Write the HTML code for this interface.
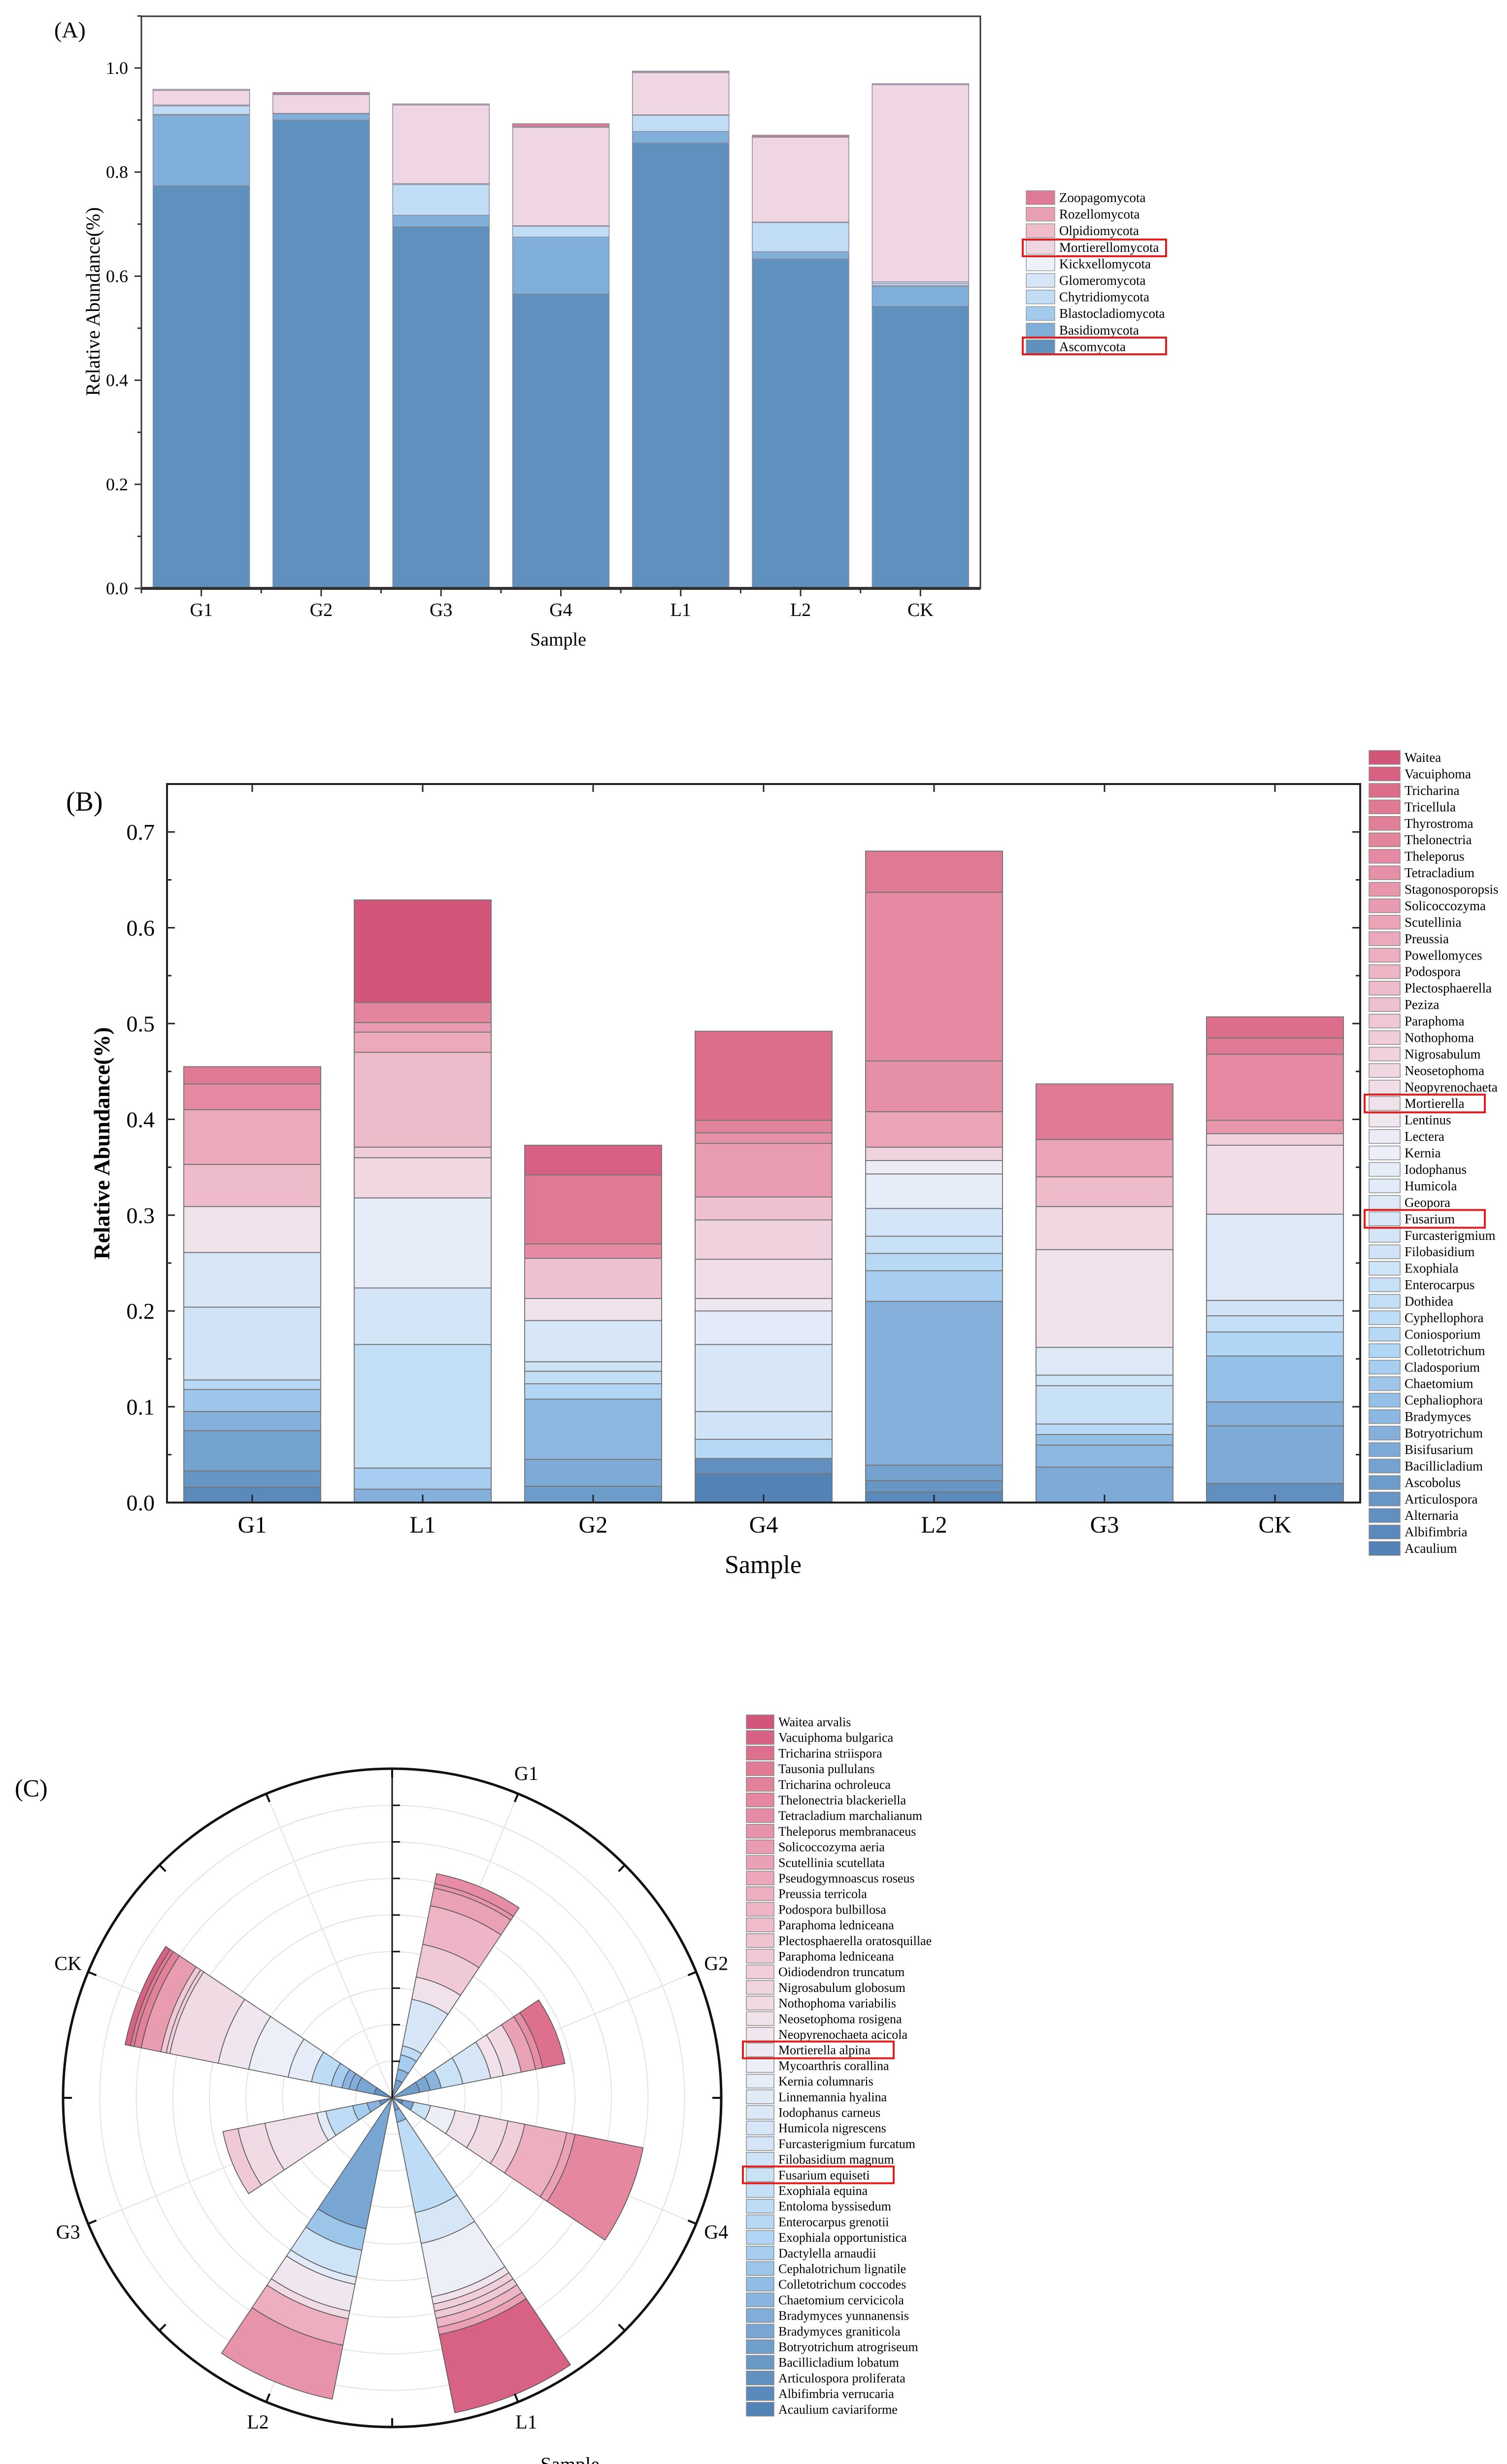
<!DOCTYPE html>
<html><head><meta charset="utf-8">
<style>
html,body{margin:0;padding:0;background:#fff;width:3059px;height:5066px;overflow:hidden;}
svg{display:block;font-family:"Liberation Serif",serif;}
</style></head>
<body>
<svg id="chart" width="3059" height="5066" viewBox="0 0 3059 5066" xmlns="http://www.w3.org/2000/svg">
<rect x="0" y="0" width="3059" height="5066" fill="#fff"/>
</svg>
<script>
// ===== Panel A data =====
const samplesA = ['G1','G2','G3','G4','L1','L2','CK'];
const phylaA = ['Ascomycota','Basidiomycota','Blastocladiomycota','Chytridiomycota','Glomeromycota','Kickxellomycota','Mortierellomycota','Olpidiomycota','Rozellomycota','Zoopagomycota'];
const ascomycota = [0.774,0.900,0.695,0.566,0.856,0.633,0.542];
const basidiomycota = [0.135,0.012,0.022,0.109,0.022,0.014,0.038];
const blastocladiomycota = [0.002,0,0,0,0,0,0.002];
const chytridiomycota = [0.016,0,0.059,0.021,0.031,0.056,0.004];
const glomeromycota = [0.002,0.001,0.002,0.001,0.001,0.001,0.003];
const kickxellomycota = [0,0,0,0,0,0,0];
const mortierellomycota = [0.028,0.036,0.151,0.189,0.081,0.163,0.379];
const olpidiomycota = [0.002,0.001,0.002,0.001,0.002,0.001,0.002];
const rozellomycota = [0,0,0,0,0,0,0];
const zoopagomycota = [0,0.003,0,0.006,0.001,0.003,0];
const ticksA = ['0.0','0.2','0.4','0.6','0.8','1.0'];
const tickValsA = [0,0.2,0.4,0.6,0.8,1.0];

// ===== Panel B data =====
const samplesB = ['G1','L1','G2','G4','L2','G3','CK'];
const generaB = ['Waitea','Vacuiphoma','Tricharina','Tricellula','Thyrostroma','Thelonectria','Theleporus','Tetracladium','Stagonosporopsis','Solicoccozyma','Scutellinia','Preussia','Powellomyces','Podospora','Plectosphaerella','Peziza','Paraphoma','Nothophoma','Nigrosabulum','Neosetophoma','Neopyrenochaeta','Mortierella','Lentinus','Lectera','Kernia','Iodophanus','Humicola','Geopora','Fusarium','Furcasterigmium','Filobasidium','Exophiala','Enterocarpus','Dothidea','Cyphellophora','Coniosporium','Colletotrichum','Cladosporium','Chaetomium','Cephaliophora','Bradymyces','Botryotrichum','Bisifusarium','Bacillicladium','Ascobolus','Articulospora','Alternaria','Albifimbria','Acaulium'];
const bG1_idx = [1,3,5,7,10,13,18,20,27,34,37,42,45];
const bG1_val = [0.016,0.017,0.042,0.020,0.023,0.010,0.076,0.057,0.048,0.044,0.057,0.027,0.018];
const bL1_idx = [7,11,15,19,23,29,31,34,37,39,43,48];
const bL1_val = [0.014,0.022,0.129,0.059,0.094,0.042,0.011,0.099,0.021,0.010,0.021,0.107];
const bG2_idx = [4,6,8,12,15,17,20,27,33,42,45,47];
const bG2_val = [0.017,0.028,0.063,0.016,0.013,0.010,0.043,0.023,0.042,0.015,0.072,0.031];
const bG4_idx = [0,2,13,18,20,22,26,28,30,33,39,41,43,46];
const bG4_val = [0.030,0.016,0.020,0.029,0.070,0.035,0.013,0.041,0.041,0.024,0.056,0.011,0.013,0.093];
const bL2_idx = [1,3,5,7,11,13,16,19,23,25,30,38,41,42,45];
const bL2_val = [0.011,0.012,0.016,0.171,0.032,0.018,0.018,0.029,0.036,0.014,0.014,0.037,0.053,0.176,0.043];
const bG3_idx = [6,8,9,13,16,17,21,27,29,34,38,45];
const bG3_val = [0.037,0.023,0.011,0.011,0.040,0.011,0.029,0.102,0.045,0.031,0.039,0.058];
const bCK_idx = [2,6,7,9,12,15,18,21,28,30,40,42,45,46];
const bCK_val = [0.020,0.060,0.025,0.048,0.025,0.017,0.016,0.090,0.072,0.012,0.014,0.069,0.017,0.022];
const ticksB = ['0.0','0.1','0.2','0.3','0.4','0.5','0.6','0.7'];
const tickValsB = [0,0.1,0.2,0.3,0.4,0.5,0.6,0.7];

// ===== Panel C data =====
const samplesC = ['G1','G2','G4','L1','L2','G3','CK'];
const speciesC = ['Waitea arvalis','Vacuiphoma bulgarica','Tricharina striispora','Tausonia pullulans','Tricharina ochroleuca','Thelonectria blackeriella','Tetracladium marchalianum','Theleporus membranaceus','Solicoccozyma aeria','Scutellinia scutellata','Pseudogymnoascus roseus','Preussia terricola','Podospora bulbillosa','Paraphoma ledniceana','Plectosphaerella oratosquillae','Paraphoma ledniceana','Oidiodendron truncatum','Nigrosabulum globosum','Nothophoma variabilis','Neosetophoma rosigena','Neopyrenochaeta acicola','Mortierella alpina','Mycoarthris corallina','Kernia columnaris','Linnemannia hyalina','Iodophanus carneus','Humicola nigrescens','Furcasterigmium furcatum','Filobasidium magnum','Fusarium equiseti','Exophiala equina','Entoloma byssisedum','Enterocarpus grenotii','Exophiala opportunistica','Dactylella arnaudii','Cephalotrichum lignatile','Colletotrichum coccodes','Chaetomium cervicicola','Bradymyces yunnanensis','Bradymyces graniticola','Botryotrichum atrogriseum','Bacillicladium lobatum','Articulospora proliferata','Albifimbria verrucaria','Acaulium caviariforme'];
const cG1_idx = [4,7,10,13,18,25,29,32,35,37,38];
const cG1_val = [0.050,0.030,0.040,0.025,0.130,0.062,0.091,0.108,0.049,0.012,0.028];
const cG2_idx = [4,5,7,15,18,25,26,35,38,42];
const cG2_val = [0.077,0.029,0.031,0.060,0.078,0.035,0.050,0.040,0.020,0.062];
const cG4_idx = [1,5,15,22,25,26,28,33,35,39];
const cG4_val = [0.030,0.030,0.047,0.069,0.069,0.078,0.047,0.117,0.023,0.190];
const cL1_idx = [4,7,13,18,22,25,28,29,32,35,43];
const cL1_val = [0.035,0.033,0.252,0.086,0.149,0.020,0.020,0.020,0.025,0.020,0.218];
const cL2_idx = [5,9,16,20,24,26,33,37];
const cL2_val = [0.365,0.060,0.075,0.020,0.075,0.021,0.074,0.150];
const cG3_idx = [2,7,10,13,20,25,26,29];
const cG3_val = [0.035,0.035,0.040,0.075,0.025,0.145,0.075,0.042];
const cCK_idx = [2,5,6,7,10,13,21,22,24,26,28,29,36,40,41,43];
const cCK_val = [0.050,0.050,0.020,0.020,0.030,0.055,0.065,0.110,0.085,0.135,0.010,0.015,0.055,0.020,0.010,0.015];

// ===== helpers =====
const NS='http://www.w3.org/2000/svg';
const svg=document.getElementById('chart');
function mk(tag, attrs, parent){const e=document.createElementNS(NS,tag);for(const k in attrs)e.setAttribute(k,attrs[k]);(parent||svg).appendChild(e);return e;}
function txt(s, attrs, parent){const e=mk('text',attrs,parent);e.textContent=s;return e;}
const stops=[[0,'#5383b6'],[.08,'#6d9bc9'],[.17,'#8cb8e2'],[.25,'#b1d6f5'],[.33,'#c8e1f6'],[.42,'#d9e7f7'],[.5,'#eceff8'],[.56,'#f0e3ec'],[.67,'#f0c6d4'],[.79,'#eba3b6'],[.875,'#e58aa2'],[.94,'#df7893'],[1,'#d4557a']];
function hx(c){return [parseInt(c.slice(1,3),16),parseInt(c.slice(3,5),16),parseInt(c.slice(5,7),16)];}
function grad(t){for(let i=1;i<stops.length;i++){if(t<=stops[i][0]){const a=stops[i-1],b=stops[i];const f=(t-a[0])/(b[0]-a[0]);const ca=hx(a[1]),cb=hx(b[1]);return 'rgb('+ca.map((v,j)=>Math.round(v+(cb[j]-v)*f)).join(',')+')';}}return stops[stops.length-1][1];}

// ===== Panel A =====
const gA=mk('g',{});


const colorsA=['#6090be','#80afd9','#a3cbee','#c0ddf5','#d6e6f8','#eef0fa','#f0d6e3','#f0bccb','#eaa0b4','#dd7b96'];
const seriesA=[ascomycota,basidiomycota,blastocladiomycota,chytridiomycota,glomeromycota,kickxellomycota,mortierellomycota,olpidiomycota,rozellomycota,zoopagomycota];
const A={l:287,r:1990,t:33,b:1194};
function yA(v){return A.b-v*1056;}
function xA(i){return A.l+(A.r-A.l)/7*(i+0.5);}
const bwA=196;
samplesA.forEach((s,i)=>{
  let cum=0;
  seriesA.forEach((ser,k)=>{
    const v=ser[i]; if(v<=0) return;
    const r=mk('rect',{x:xA(i)-bwA/2,y:yA(cum+v),width:bwA,height:yA(cum)-yA(cum+v),fill:colorsA[k],stroke:'#8a8a9a','stroke-width':1.5},gA);
    
    
    cum+=v;
  });
  const lb=txt(s,{x:xA(i),y:1250,'font-size':38,'text-anchor':'middle'},gA);
  
  
  mk('line',{x1:xA(i),y1:A.b,x2:xA(i),y2:A.b+16,stroke:'#333','stroke-width':3},gA);
  mk('line',{x1:A.l+(A.r-A.l)/7*i,y1:A.b,x2:A.l+(A.r-A.l)/7*i,y2:A.b+10,stroke:'#333','stroke-width':3},gA);
});
const frameA=mk('rect',{x:A.l,y:A.t,width:A.r-A.l,height:A.b-A.t,fill:'none',stroke:'#333','stroke-width':3},gA);


mk('line',{x1:A.l,y1:A.b,x2:A.r,y2:A.b,stroke:'#333','stroke-width':6},gA);
tickValsA.forEach((v,i)=>{
  mk('line',{x1:A.l-14,y1:yA(v),x2:A.l,y2:yA(v),stroke:'#333','stroke-width':3},gA);
  mk('line',{x1:A.l-8,y1:yA(v+0.1),x2:A.l,y2:yA(v+0.1),stroke:'#333','stroke-width':3},gA);
  const t=txt(ticksA[i],{x:260,y:yA(v)+12,'font-size':36,'text-anchor':'end'},gA);
  
  
});
let e;
e=txt('Relative Abundance(%)',{x:0,y:0,'font-size':40,'text-anchor':'middle',transform:'translate(202,612) rotate(-90)'},gA);


e=txt('Sample',{x:1133,y:1310,'font-size':38,'text-anchor':'middle'},gA);


e=txt('(A)',{x:110,y:76,'font-size':46},gA);


for(let k=9;k>=0;k--){
  const row=9-k; const cy=401+row*33.6;
  const g=mk('g',{},gA);
  
  
  mk('rect',{x:2083,y:cy-14,width:58,height:28,fill:colorsA[k],stroke:'#999','stroke-width':1.5},g);
  txt(phylaA[k],{x:2150,y:cy+9,'font-size':27},g);
}
e=mk('rect',{x:2076,y:486,width:291,height:34,fill:'none',stroke:'#e02020','stroke-width':4},gA);


e=mk('rect',{x:2076,y:685,width:291,height:34,fill:'none',stroke:'#e02020','stroke-width':4},gA);



// ===== Panel B =====
const gB=mk('g',{});


const B={l:339,r:2761,t:1591,b:3049};
function yB(v){return B.b-v*1944;}
function xB(i){return B.l+(B.r-B.l)/7*(i+0.5);}
const bwB=278;
const NB=generaB.length;
function colB(idx){return grad(idx/(NB-1));}
const stacksIdx=[bG1_idx,bL1_idx,bG2_idx,bG4_idx,bL2_idx,bG3_idx,bCK_idx];
const stacksVal=[bG1_val,bL1_val,bG2_val,bG4_val,bL2_val,bG3_val,bCK_val];
samplesB.forEach((s,i)=>{
  let cum=0;
  stacksVal[i].forEach((v,j)=>{
    const gi=stacksIdx[i][j];
    const r=mk('rect',{x:xB(i)-bwB/2,y:yB(cum+v),width:bwB,height:yB(cum)-yB(cum+v),fill:colB(gi),stroke:'#777','stroke-width':2},gB);
    
    
    cum+=v;
  });
  const lb=txt(s,{x:xB(i),y:3110,'font-size':48,'text-anchor':'middle'},gB);
  
  
  mk('line',{x1:xB(i),y1:B.b,x2:xB(i),y2:B.b-16,stroke:'#222','stroke-width':3},gB);
  mk('line',{x1:xB(i),y1:B.t,x2:xB(i),y2:B.t+16,stroke:'#222','stroke-width':3},gB);
});
e=mk('rect',{x:B.l,y:B.t,width:B.r-B.l,height:B.b-B.t,fill:'none',stroke:'#222','stroke-width':4},gB);


tickValsB.forEach((v,i)=>{
  mk('line',{x1:B.l,y1:yB(v),x2:B.l+16,y2:yB(v),stroke:'#222','stroke-width':3},gB);
  mk('line',{x1:B.r,y1:yB(v),x2:B.r-16,y2:yB(v),stroke:'#222','stroke-width':3},gB);
  mk('line',{x1:B.l,y1:yB(v+0.05),x2:B.l+9,y2:yB(v+0.05),stroke:'#222','stroke-width':3},gB);
  mk('line',{x1:B.r,y1:yB(v+0.05),x2:B.r-9,y2:yB(v+0.05),stroke:'#222','stroke-width':3},gB);
  const t=txt(ticksB[i],{x:314,y:yB(v)+16,'font-size':46,'text-anchor':'end'},gB);
  
  
});
e=txt('Relative Abundance(%)',{x:0,y:0,'font-size':46,'font-weight':'bold','text-anchor':'middle',transform:'translate(222,2320) rotate(-90)'},gB);


e=txt('Sample',{x:1549,y:3192,'font-size':52,'text-anchor':'middle'},gB);


e=txt('(B)',{x:134,y:1645,'font-size':56},gB);


generaB.forEach((name,row)=>{
  const cy=1537+row*33.44; const gi=NB-1-row;
  const g=mk('g',{},gB);
  
  
  mk('rect',{x:2779,y:cy-14,width:63,height:28,fill:colB(gi),stroke:'#888','stroke-width':1.5},g);
  txt(name,{x:2851,y:cy+9,'font-size':27},g);
});
e=mk('rect',{x:2770,y:1537+21*33.44-18,width:244,height:36,fill:'none',stroke:'#e02020','stroke-width':4},gB);


e=mk('rect',{x:2770,y:1537+28*33.44-18,width:244,height:36,fill:'none',stroke:'#e02020','stroke-width':4},gB);



// ===== Panel C =====
const gC=mk('g',{});


const C={cx:796,cy:4257,R:668,unit:74.2};
const NC=speciesC.length;
function colC(idx){return grad(idx/(NC-1));}
function rC(v){return v*10*C.unit;}
function pt(r,a){const t=a*Math.PI/180;return [C.cx+r*Math.sin(t),C.cy-r*Math.cos(t)];}
function sector(r0,r1,a0,a1){
  const p1=pt(r1,a0),p2=pt(r1,a1);
  let d='M'+pt(r0,a0).join(',')+' L'+p1.join(',')+' A'+r1+','+r1+' 0 0 1 '+p2.join(',');
  if(r0>0){const p3=pt(r0,a1),p4=pt(r0,a0);d+=' L'+p3.join(',')+' A'+r0+','+r0+' 0 0 0 '+p4.join(',');}
  else d+=' L'+C.cx+','+C.cy;
  return d+' Z';
}
for(let k=1;k<=8;k++) mk('circle',{cx:C.cx,cy:C.cy,r:k*C.unit,fill:'none',stroke:'#e2e2e2','stroke-width':2},gC);
for(let k=0;k<8;k++){const p=pt(C.R,22.5+45*k);mk('line',{x1:C.cx,y1:C.cy,x2:p[0],y2:p[1],stroke:'#e2e2e2','stroke-width':2},gC);}
const cIdx=[cG1_idx,cG2_idx,cG4_idx,cL1_idx,cL2_idx,cG3_idx,cCK_idx];
const cVal=[cG1_val,cG2_val,cG4_val,cL1_val,cL2_val,cG3_val,cCK_val];
samplesC.forEach((s,i)=>{
  const ac=22.5+45*i; let cum=0;
  cVal[i].forEach((v,j)=>{
    const si=cIdx[i][j];
    const p=mk('path',{d:sector(rC(cum),rC(cum+v),ac-11.25,ac+11.25),fill:colC(si),stroke:'#555','stroke-width':1.6},gC);
    
    
    cum+=v;
  });
  const lp=pt(712,ac);
  const t=txt(s,{x:lp[0],y:lp[1]+13,'font-size':40,'text-anchor':'middle'},gC);
  
  
});
e=mk('circle',{cx:C.cx,cy:C.cy,r:C.R,fill:'none',stroke:'#111','stroke-width':5},gC);


for(let k=0;k<16;k++){const a=22.5*k;const p0=pt(C.R,a),p1=pt(C.R-18,a);mk('line',{x1:p0[0],y1:p0[1],x2:p1[0],y2:p1[1],stroke:'#111','stroke-width':4},gC);}
e=mk('line',{x1:C.cx,y1:C.cy,x2:C.cx,y2:C.cy-C.R,stroke:'#111','stroke-width':3},gC);


for(let k=1;k<=8;k++) mk('line',{x1:C.cx,y1:C.cy-k*C.unit,x2:C.cx+16,y2:C.cy-k*C.unit,stroke:'#111','stroke-width':3},gC);
e=txt('(C)',{x:30,y:3645,'font-size':50},gC);


e=txt('Sample',{x:1157,y:5014,'font-size':40,'text-anchor':'middle'},gC);


speciesC.forEach((name,row)=>{
  const cy=3494+row*31.7; const si=NC-1-row;
  const g=mk('g',{},gC);
  
  
  mk('rect',{x:1515,y:cy-14,width:56,height:28,fill:colC(si),stroke:'#888','stroke-width':1.5},g);
  txt(name,{x:1580,y:cy+9,'font-size':26},g);
});
e=mk('rect',{x:1508,y:3494+21*31.7-17,width:306,height:34,fill:'none',stroke:'#e02020','stroke-width':4},gC);


e=mk('rect',{x:1508,y:3494+29*31.7-17,width:306,height:34,fill:'none',stroke:'#e02020','stroke-width':4},gC);


</script>
</body></html>
